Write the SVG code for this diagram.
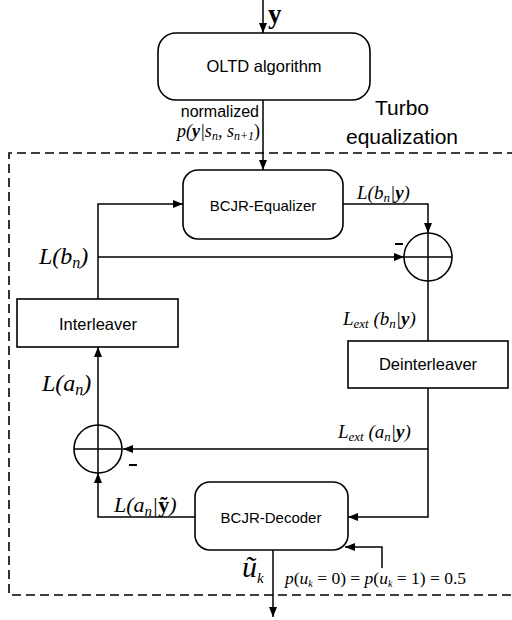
<svg xmlns="http://www.w3.org/2000/svg" width="512" height="620" viewBox="0 0 512 620">
<defs>
<marker id="arr" markerWidth="10" markerHeight="8" refX="10" refY="4" orient="auto" markerUnits="userSpaceOnUse"><path d="M0,0 L10,4 L0,8 z" fill="#000"/></marker>
<style>
.box{fill:#fff;stroke:#000;stroke-width:1.6}
.lbl{font-family:"Liberation Sans",Arial,sans-serif;font-size:15px;fill:#000;text-anchor:middle}
.wire{fill:none;stroke:#000;stroke-width:1.5}
.arw{marker-end:url(#arr)}
.m{font-family:"Liberation Serif","Times New Roman",serif;font-style:italic;fill:#000}
.b{font-weight:bold}
.up{font-style:normal}
.dash{fill:none;stroke:#000;stroke-width:1.6;stroke-dasharray:9 5}
</style>
</defs>
<rect width="512" height="620" fill="#fff"/>

<path class="dash" d="M530,153 H9 V595 H530"/>
<text x="402" y="115" style="font-family:'Liberation Sans',Arial,sans-serif;font-size:21px;text-anchor:middle">Turbo</text>
<text x="402" y="144" style="font-family:'Liberation Sans',Arial,sans-serif;font-size:21px;text-anchor:middle">equalization</text>

<g id="connectors">
<path class="wire arw" d="M263,0 V33"/>
<path class="wire arw" d="M263,100 V170"/>
<path class="wire arw" d="M98,299 V204 H183"/>
<path class="wire arw" d="M98,257 H404"/>
<path class="wire arw" d="M343,204 H428 V233"/>
<path class="wire" d="M428,281 V341"/>
<path class="wire arw" d="M428,388 V449 H123"/>
<path class="wire arw" d="M428,449 V517 H348"/>
<path class="wire arw" d="M98,425 V347"/>
<path class="wire arw" d="M195,517 H98 V473"/>
<path class="wire arw" d="M382,568 V547 H345"/>
<path class="wire arw" d="M273,550 V617"/>
</g>

<g id="oltd">
<rect class="box" x="158" y="33" width="212" height="67" rx="18"/>
<text class="lbl" x="264" y="72" style="font-size:16.5px">OLTD algorithm</text>
</g>
<g id="equalizer">
<rect class="box" x="183" y="170" width="160" height="69" rx="15"/>
<text class="lbl" x="263" y="211">BCJR-Equalizer</text>
</g>
<g id="interleaver">
<rect class="box" x="17" y="299" width="161" height="48"/>
<text class="lbl" x="98" y="330" style="font-size:16.5px">Interleaver</text>
</g>
<g id="deinterleaver">
<rect class="box" x="348" y="341" width="160" height="47"/>
<text class="lbl" x="428" y="370" style="font-size:16.5px">Deinterleaver</text>
</g>
<g id="decoder">
<rect class="box" x="195" y="482" width="153" height="68" rx="15"/>
<text class="lbl" x="271" y="523">BCJR-Decoder</text>
</g>
<g id="sum1">
<circle cx="428" cy="257" r="24" fill="#fff" stroke="#000" stroke-width="1.6"/>
<path class="wire" d="M404,257 H452 M428,233 V281"/>
<path d="M395,244 H403" stroke="#000" stroke-width="2"/>
</g>
<g id="sum2">
<circle cx="98" cy="449" r="24" fill="#fff" stroke="#000" stroke-width="1.6"/>
<path class="wire" d="M74,449 H122 M98,425 V473"/>
<path d="M129,465 H137" stroke="#000" stroke-width="2"/>
</g>

<text x="268" y="23" class="m b up" font-size="27">y</text>
<text x="259" y="117" style="font-family:'Liberation Sans',Arial,sans-serif;font-size:16px;text-anchor:end">normalized</text>
<text x="260" y="137" class="m" font-size="18" text-anchor="end">p(<tspan class="b">y</tspan>|s<tspan font-size="12" dy="3">n</tspan><tspan dy="-3">, s</tspan><tspan font-size="12" dy="3">n+1</tspan><tspan dy="-3" class="up">)</tspan></text>

<text x="357" y="199" class="m" font-size="19">L(b<tspan font-size="13" dy="3">n</tspan><tspan dy="-3">|</tspan><tspan class="b">y</tspan>)</text>
<text x="39" y="264" class="m" font-size="24">L(b<tspan font-size="16" dy="4">n</tspan><tspan dy="-4">)</tspan></text>
<text x="343" y="325" class="m" font-size="19">L<tspan font-size="13" dy="3">ext</tspan><tspan dy="-3"> (b</tspan><tspan font-size="13" dy="3">n</tspan><tspan dy="-3">|</tspan><tspan class="b">y</tspan>)</text>
<text x="42" y="391" class="m" font-size="24">L(a<tspan font-size="16" dy="4">n</tspan><tspan dy="-4">)</tspan></text>
<text x="338" y="438" class="m" font-size="19">L<tspan font-size="13" dy="3">ext</tspan><tspan dy="-3"> (a</tspan><tspan font-size="13" dy="3">n</tspan><tspan dy="-3">|</tspan><tspan class="b">y</tspan>)</text>
<text x="114" y="512" class="m" font-size="22">L(a<tspan font-size="15" dy="4">n</tspan><tspan dy="-4">|</tspan><tspan class="b up">ỹ</tspan>)</text>
<text x="242" y="577" class="m" font-size="30">ũ<tspan font-size="15" dy="6">k</tspan></text>
<text x="285" y="584" class="m" font-size="17.5">p<tspan class="up">(</tspan>u<tspan font-size="10" dy="3">k</tspan><tspan dy="-3" class="up"> = 0) = </tspan>p<tspan class="up">(</tspan>u<tspan font-size="10" dy="3">k</tspan><tspan dy="-3" class="up"> = 1) = 0.5</tspan></text>
</svg>
